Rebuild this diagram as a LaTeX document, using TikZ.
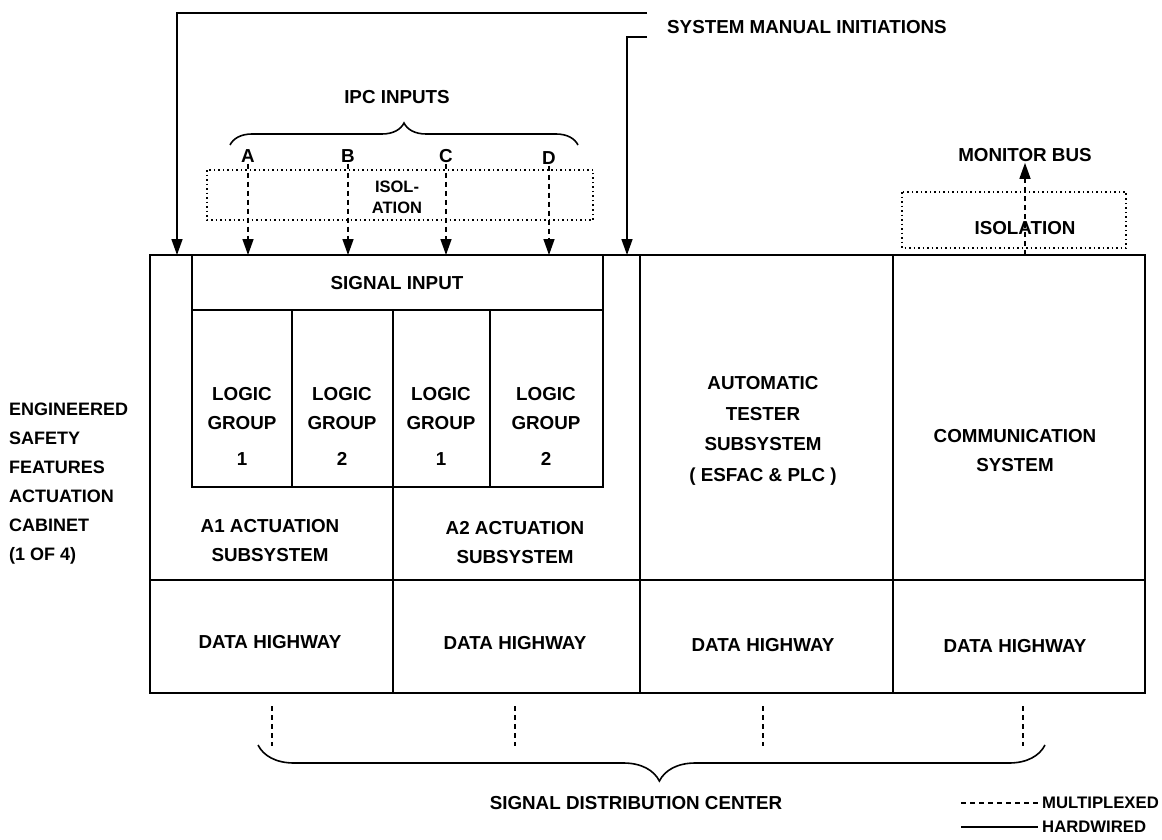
\documentclass[tikz,border=0pt]{standalone}
\usepackage{fontspec}
\setmainfont{Liberation Sans}
\usetikzlibrary{arrows.meta,calc,decorations.pathreplacing}
\begin{document}
\begin{tikzpicture}[x=1pt,y=-1pt,
  lbl/.style={font=\bfseries\fontsize{18.8}{29}\selectfont, align=center, inner sep=1pt},
  small/.style={font=\bfseries\fontsize{16.5}{21}\selectfont, align=center, inner sep=1pt},
  leg/.style={font=\bfseries\fontsize{16.7}{20}\selectfont, inner sep=1pt},
  frame/.style={line width=1.8pt},
  wire/.style={line width=1.6pt},
  mux/.style={line width=1.5pt, dash pattern=on 5pt off 4pt},
  iso/.style={line width=1.5pt, dash pattern=on 1.5pt off 3pt},
  arr/.style={-{Triangle[length=16pt,width=11pt]}},
  brc/.style={line width=1.6pt, decorate}
]
\useasboundingbox (0,0) rectangle (1162,840);

% ---------- cabinet frame ----------
\draw[frame] (150,255) rectangle (1145,693);
\draw[frame] (150,580) -- (1145,580);
\draw[frame] (640,255) -- (640,693);
\draw[frame] (893,255) -- (893,693);
\draw[frame] (393,487) -- (393,693);
\draw[frame] (192,255) rectangle (603,487);
\draw[frame] (192,310) -- (603,310);
\foreach \x in {292,393,490} \draw[frame] (\x,310) -- (\x,487);

% ---------- labels in cabinet ----------
\node[lbl] (sigin) at (397,283) {SIGNAL INPUT};
\node[lbl] (lg1) at (242,426) {LOGIC\\GROUP\\[7pt]1};
\node[lbl] (lg2) at (342,426) {LOGIC\\GROUP\\[7pt]2};
\node[lbl] (lg3) at (441,426) {LOGIC\\GROUP\\[7pt]1};
\node[lbl] (lg4) at (546,426) {LOGIC\\GROUP\\[7pt]2};
\node[lbl] (a1) at (270,541) {A1 ACTUATION\\SUBSYSTEM};
\node[lbl] (a2) at (515,543) {A2 ACTUATION\\SUBSYSTEM};
\node[lbl,font=\bfseries\fontsize{18.8}{30.5}\selectfont] (ats) at (763,431) {AUTOMATIC\\TESTER\\SUBSYSTEM\\( ESFAC \& PLC )};
\node[lbl] (com) at (1015,451) {COMMUNICATION\\SYSTEM};
\node[lbl] (dh1) at (270,642) {DATA HIGHWAY};
\node[lbl] (dh2) at (515,643) {DATA HIGHWAY};
\node[lbl] (dh3) at (763,645) {DATA HIGHWAY};
\node[lbl] (dh4) at (1015,646) {DATA HIGHWAY};

\node[lbl, align=left, anchor=west, font=\bfseries\fontsize{18}{29}\selectfont] (esf) at (8,484) {ENGINEERED\\SAFETY\\FEATURES\\ACTUATION\\CABINET\\(1 OF 4)};

% ---------- manual initiations (hardwired) ----------
\node[lbl, anchor=west] (smi) at (666,27) {SYSTEM MANUAL INITIATIONS};
\coordinate (h1) at (647,13);
\coordinate (h2) at (647,37);
\coordinate (in1) at (177,255);
\coordinate (in2) at (627,255);
\draw[wire,arr] (h1) -| (in1);
\draw[wire,arr] (h2) -| (in2);

% ---------- IPC inputs ----------
\node[lbl] (ipc) at (397,97) {IPC INPUTS};
\draw[brc, decoration={brace,amplitude=22pt}] (230,145) -- (578,145);
\draw[iso] (207,170) rectangle (593,220);
\node[small] (isol) at (397,197) {ISOL-\\ATION};
\node[lbl] (A) at (248,156) {A};
\node[lbl] (B) at (348,156) {B};
\node[lbl] (C) at (446,156) {C};
\node[lbl] (D) at (549,158) {D};
\foreach \n in {A,B,C,D} {
  \coordinate (t\n) at (\n.south |- 0,255);
  \draw[mux,arr] (\n.south) -- (t\n);
}

% ---------- monitor bus ----------
\node[lbl] (mon) at (1025,155) {MONITOR BUS};
\draw[iso] (902,192) rectangle (1126,248);
\node[lbl] (iso2) at (1025,228) {ISOLATION};
\coordinate (mb) at (1025,255);
\draw[mux,arr] (mb) -- (mon.south);

% ---------- signal distribution ----------
\foreach \x/\n in {272/1,515/2,763/3,1023/4} {
  \coordinate (d\n) at (\x,706);
  \coordinate (e\n) at (\x,746);
  \draw[mux] (d\n) -- (e\n);
}
\draw[brc, decoration={brace,amplitude=36pt,aspect=0.49}] (1045,745) -- (258,745);
\node[lbl] (sdc) at (636,803) {SIGNAL DISTRIBUTION CENTER};

% ---------- legend ----------
\node[leg, anchor=east] (lmux) at (1160,803) {MULTIPLEXED};
\node[leg, anchor=west] (lhw) at (lmux.west |- 0,827) {HARDWIRED};
\coordinate (lm0) at ($(lmux.west)+(-80,0)$);
\coordinate (lm1) at ($(lmux.west)+(-3,0)$);
\coordinate (lh0) at ($(lhw.west)+(-80,0)$);
\coordinate (lh1) at ($(lhw.west)+(-3,0)$);
\draw[mux, line width=1.1pt] (lm0) -- (lm1);
\draw[wire, line width=1.1pt] (lh0) -- (lh1);
\end{tikzpicture}
\end{document}
